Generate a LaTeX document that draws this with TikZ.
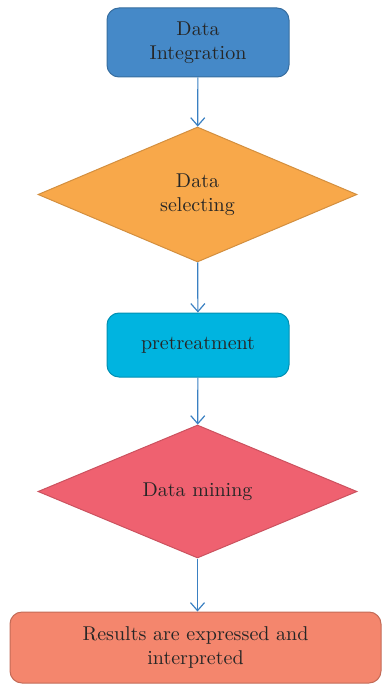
\documentclass[tikz,border=0pt]{standalone}
\usetikzlibrary{shapes.geometric,arrows.meta}
\definecolor{intblue}{HTML}{4589C8}
\definecolor{selorange}{HTML}{F8A84A}
\definecolor{precyan}{HTML}{00B4E0}
\definecolor{minered}{HTML}{EF6170}
\definecolor{ressalmon}{HTML}{F4866D}
\definecolor{arrowblue}{HTML}{3A80C2}
\tikzset{
  stepbox/.style={rectangle, rounded corners=6pt, draw=#1!80!black, fill=#1, line width=0.5pt,
    inner sep=0pt, align=center, text=black!85},
  decision/.style={diamond, draw=#1!85!black, fill=#1, line width=0.5pt,
    inner sep=0pt, align=center, text=black!85},
  flow/.style={-{Straight Barb[length=4pt,width=7pt]}, arrowblue, line width=0.6pt}
}
\begin{document}
\begin{tikzpicture}[x=0.5pt, y=-0.5pt]
        \useasboundingbox (0,0) rectangle (382,684);

        % boxes and decisions
        \node[stepbox=intblue, minimum width=91pt, minimum height=34.5pt] (integ) at (198,42.5) {Data\\Integration};
        \node[decision=selorange, minimum width=159.5pt, minimum height=67.5pt] (select) at (197.5,194.5) {Data\\selecting};
        \node[stepbox=precyan, minimum width=91pt, minimum height=32pt] (pretreat) at (198,345) {pretreatment};
        \node[decision=minered, minimum width=159.5pt, minimum height=66.5pt] (mining) at (197.5,491.5) {Data mining};
        \node[stepbox=ressalmon, minimum width=185.5pt, minimum height=35.5pt] (result) at (195.5,647.5) {Results are expressed and\\interpreted};

        % arrows
        \draw[flow] (integ) -- (select);
        \draw[flow] (select) -- (pretreat);
        \draw[flow] (pretreat) -- (mining);
        \draw[flow] (mining.south) -- (mining.south |- result.north);

    \end{tikzpicture}
\end{document}
